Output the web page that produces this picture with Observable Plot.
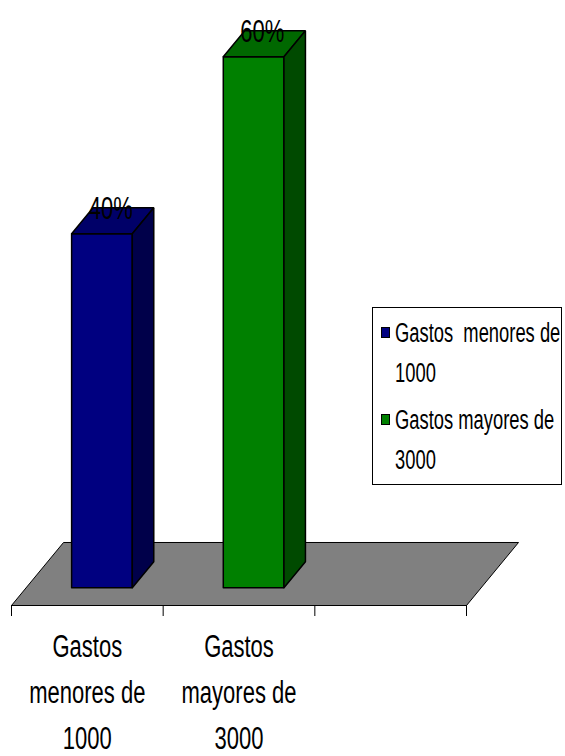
<!DOCTYPE html>
<html><head><meta charset="utf-8">
<script src="https://cdn.jsdelivr.net/npm/d3@7"></script>
<script src="https://cdn.jsdelivr.net/npm/@observablehq/plot@0.6"></script>
<style>
body{margin:0;background:#fff;font-family:"Liberation Sans",Arial,sans-serif;}
#wrap{position:relative;width:565px;height:756px;overflow:hidden;}
#legend{position:absolute;left:372px;top:307px;width:190px;height:178px;border:1px solid #000;box-sizing:border-box;background:#fff;}
.entry{position:relative;height:80px;}
.sw{position:absolute;left:8px;top:14px;width:9px;height:11px;border:1px solid #000;box-sizing:border-box;}
.lt{position:absolute;left:22px;top:0;font-size:27px;line-height:40px;white-space:pre;transform:scaleX(0.68);transform-origin:0 0;color:#000;}
</style></head><body>
<div id="wrap"></div>
<script>
// ---- data ----
const categories = ["Gastos menores de 1000", "Gastos mayores de 3000"];
const values = [40, 60];
const valueLabels = ["40%", "60%"];
const xLabels = ["Gastos\nmenores de\n1000", "Gastos\nmayores de\n3000"];
const legendLabels = ["Gastos  menores de\n1000", "Gastos mayores de\n3000"];
const frontColors = ["#000080", "#008000"];
const topColors = ["#000068", "#006800"];
const sideColors = ["#00004a", "#004a00"];
const floorColor = "#808080";
const slotCount = 3;

// ---- oblique 3D projection in data units ----
const depthX = 0.343, depthY = 7.12;
const barFront = 0.281, barBack = 0.694, barHalf = 0.2;
const P = (x, v, d) => ({x: x + depthX * d, y: v + depthY * d});
const close = (pts) => [...pts, pts[0]];

const floor = close([P(0, 0, 0), P(slotCount, 0, 0), P(slotCount, 0, 1), P(0, 0, 1)]);

const marks = [
  Plot.line(floor, {x: "x", y: "y", fill: floorColor, stroke: "#000", strokeWidth: 1}),
  Plot.axisX({ticks: d3.range(slotCount + 1), tickSize: 11, tickFormat: () => "", label: null, stroke: "#000"})
];

categories.forEach((c, i) => {
  const v = values[i], cx = i + 0.5, l = cx - barHalf, r = cx + barHalf;
  const f = barFront, b = barBack;
  const front = close([P(l, 0, f), P(r, 0, f), P(r, v, f), P(l, v, f)]);
  const top = close([P(l, v, f), P(r, v, f), P(r, v, b), P(l, v, b)]);
  const side = close([P(r, 0, f), P(r, 0, b), P(r, v, b), P(r, v, f)]);
  const style = {x: "x", y: "y", stroke: "#000", strokeWidth: 1.5, strokeLinejoin: "miter"};
  marks.push(Plot.line(front, {...style, fill: frontColors[i]}));
  marks.push(Plot.line(top, {...style, fill: topColors[i]}));
  marks.push(Plot.line(side, {...style, fill: sideColors[i]}));
});

const labelData = categories.map((c, i) => ({
  ...P(i + 0.5, values[i], (barFront + barBack) / 2), t: valueLabels[i]
}));
marks.push(Plot.text(labelData, {x: "x", y: "y", text: "t", fontSize: 31, lineAnchor: "middle", dy: -12, dx: -2, fill: "#000", fontFamily: "Liberation Sans"}));

marks.push(Plot.text(categories, {x: (d, i) => i + 0.5, frameAnchor: "bottom", text: (d, i) => xLabels[i], lineAnchor: "top", dy: 19, fontSize: 31, lineHeight: 46 / 31, fill: "#000", fontFamily: "Liberation Sans"}));

const chart = Plot.plot({
  width: 565, height: 756,
  marginLeft: 11, marginRight: 99, marginTop: 74, marginBottom: 151,
  x: {domain: [0, slotCount], axis: null, label: null},
  y: {domain: [0, 60], axis: null, label: null},
  style: {background: "#fff", fontFamily: "Liberation Sans", overflow: "visible"},
  marks
});

d3.select(chart).selectAll("text").each(function() {
  const el = this;
  const s = 0.71;
  const t = el.getAttribute("transform");
  if (t) el.setAttribute("transform", t + ` scale(${s},1)`);
  else {
    const x = +el.getAttribute("x") || 0;
    el.setAttribute("transform", `translate(${x},0) scale(${s},1) translate(${-x},0)`);
  }
});

const wrap = document.getElementById("wrap");
wrap.appendChild(chart);

const legend = document.createElement("div");
legend.id = "legend";
legendLabels.forEach((lab, i) => {
  const e = document.createElement("div");
  e.className = "entry";
  e.style.marginTop = i === 0 ? "5px" : "7px";
  const sw = document.createElement("div");
  sw.className = "sw";
  sw.style.background = frontColors[i];
  const lt = document.createElement("div");
  lt.className = "lt";
  lt.textContent = lab;
  e.appendChild(sw); e.appendChild(lt);
  legend.appendChild(e);
});
wrap.appendChild(legend);
</script>
</body></html>
